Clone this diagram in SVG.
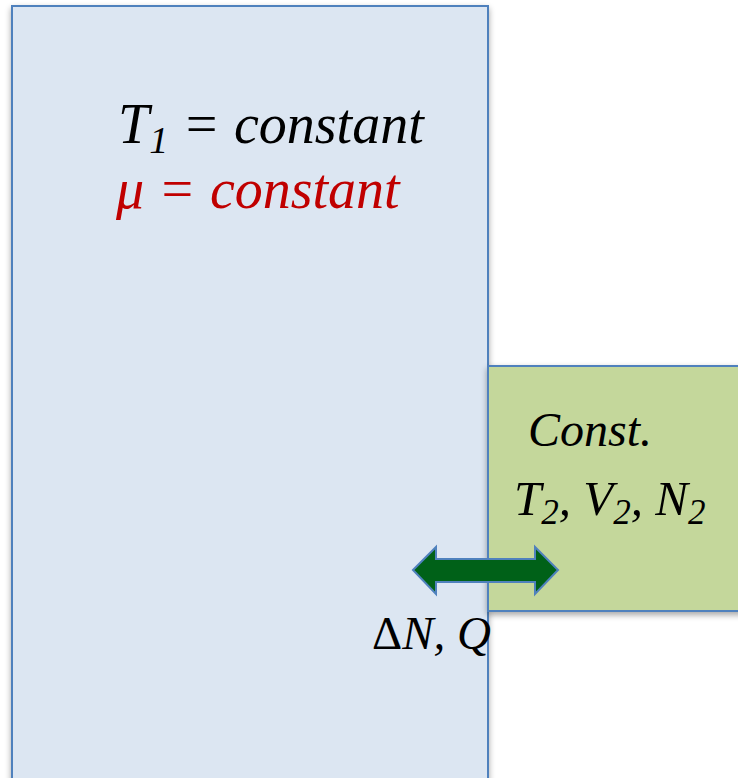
<svg xmlns="http://www.w3.org/2000/svg" width="738" height="778" viewBox="0 0 738 778">
<defs>
<filter id="sh" x="-10%" y="-10%" width="120%" height="120%">
<feGaussianBlur in="SourceAlpha" stdDeviation="3"/>
<feOffset dx="0" dy="3" result="b"/>
<feComponentTransfer><feFuncA type="linear" slope="0.35"/></feComponentTransfer>
<feMerge><feMergeNode/><feMergeNode in="SourceGraphic"/></feMerge>
</filter>
</defs>
<style>
text{font-family:'Liberation Serif',serif;font-style:italic}
.u{font-style:normal}
.box{stroke:#4F81BD;stroke-width:2}
</style>
<rect width="738" height="778" fill="#fff"/>
<g id="reservoir">
<rect class="box" x="12" y="6" width="476" height="790" fill="#DCE6F2" filter="url(#sh)"/>
<text font-family="Liberation Serif" x="118" y="143" font-size="56" fill="#000">T<tspan font-size="38" dy="10">1</tspan><tspan dy="-10"> = constant</tspan></text>
<text font-family="Liberation Serif" x="116" y="208" font-size="56" fill="#C00000">μ = constant</text>
</g>
<g id="system">
<rect class="box" x="488" y="366" width="262" height="245" fill="#C4D79B" filter="url(#sh)"/>
<text font-family="Liberation Serif" x="528" y="446" font-size="48" fill="#000">Const.</text>
<text font-family="Liberation Serif" x="514" y="515" font-size="49" fill="#000">T<tspan font-size="35" dy="9">2</tspan><tspan dy="-9">, V</tspan><tspan font-size="35" dy="9">2</tspan><tspan dy="-9">, N</tspan><tspan font-size="35" dy="9">2</tspan></text>
</g>
<g id="connectors">
<polygon points="413,570 436,547 436,559 535,559 535,547 558,570 535,594 535,582 436,582 436,594" fill="#006118" stroke="#4F81BD" stroke-width="2"/>
</g>
<g id="label">
<text font-family="Liberation Serif" x="372" y="649" font-size="47" fill="#000"><tspan class="u">Δ</tspan>N, Q</text>
</g>
</svg>
